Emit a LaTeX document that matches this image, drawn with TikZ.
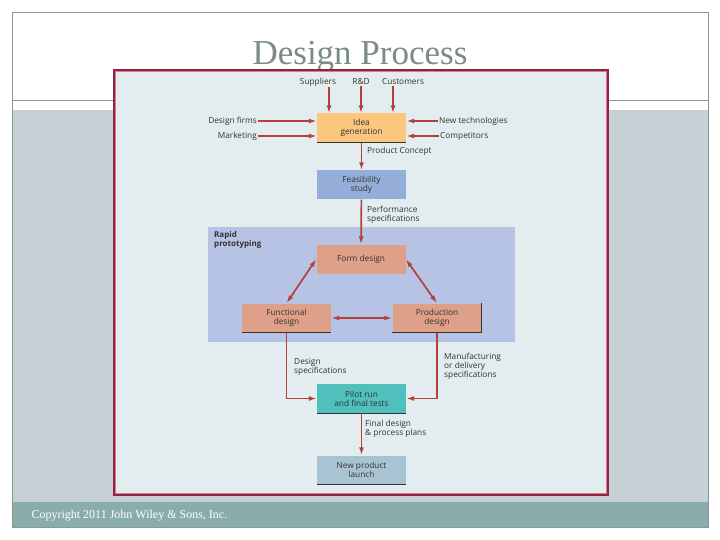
\documentclass[tikz,border=0pt]{standalone}
\usepackage{fontspec}
\setmainfont{Liberation Serif}
\newfontfamily\figFont{Open Sans}
\usetikzlibrary{arrows.meta}
\definecolor{frameGray}{RGB}{138,152,152}
\definecolor{bandGray}{RGB}{198,209,214}
\definecolor{footerTeal}{RGB}{138,172,171}
\definecolor{titleGray}{RGB}{122,140,137}
\definecolor{figBack}{RGB}{227,237,240}
\definecolor{figBorder}{RGB}{142,37,64}
\definecolor{figBorderInner}{RGB}{226,120,150}
\definecolor{arrowRed}{RGB}{180,64,58}
\definecolor{ideaColor}{RGB}{251,199,125}
\definecolor{feasColor}{RGB}{148,173,217}
\definecolor{rapidColor}{RGB}{183,195,228}
\definecolor{salmonColor}{RGB}{223,160,137}
\definecolor{pilotColor}{RGB}{80,192,188}
\definecolor{launchColor}{RGB}{168,196,211}
\definecolor{textGray}{RGB}{50,50,50}
\tikzstyle{slide} = [x=1pt, y=-1pt]
\tikzstyle{stepBox} = [minimum width=89pt, minimum height=29pt, inner sep=0pt, align=center, text=textGray, font=\figFont\fontsize{8.3}{9}\selectfont]
\tikzstyle{sideText} = [text=textGray, inner sep=1pt, align=left, font=\figFont\fontsize{8.3}{9}\selectfont]
\tikzstyle{flowArrow} = [color=arrowRed, line width=1.7pt, -{Latex[length=8pt,width=5pt]}]
\tikzstyle{bothArrow} = [flowArrow, {Latex[length=8pt,width=5pt]}-{Latex[length=8pt,width=5pt]}]
\tikzstyle{shadowLine} = [color=black!80, line width=1pt]
\newcommand{\shadowBottom}[1]{\draw [shadowLine] (#1.south west) -- (#1.south east);}
\begin{document}
\begin{tikzpicture}[slide]
  \useasboundingbox (0,0) rectangle (720,540);
  \fill [white] (0,0) rectangle (720,540);

  % slide frame
  \fill [bandGray] (12,110) rectangle (708,502);
  \fill [footerTeal] (12,502) rectangle (708,527);
  \draw [frameGray, line width=0.8pt] (12,12) rectangle (708,527);
  \draw [frameGray, line width=0.8pt] (12,100) -- (708,100);
  \node (title) [text=titleGray, font=\fontsize{35}{35}\selectfont] at (360,57) {Design Process};
  \node (copyright) [anchor=west, text=white, font=\fontsize{12}{13}\selectfont] at (28,516) {Copyright 2011 John Wiley \& Sons, Inc.};

  % figure panel
  \filldraw [fill=figBack, draw=figBorder, line width=2pt] (114,70) rectangle (608,495);
  \draw [figBorderInner, line width=0.8pt] (115.6,71.6) rectangle (606.4,493.4);
  \fill [rapidColor] (208,227) rectangle (515,342);
  \node (rapid) [sideText, anchor=north west, font=\figFont\bfseries\fontsize{8}{9}\selectfont] at (213,230) {Rapid\\prototyping};

  % boxes
  \node (ideaGen) [stepBox, fill=ideaColor] at (361.5,128) {Idea\\generation};
  \node (feasibility) [stepBox, fill=feasColor] at (361.5,185) {Feasibility\\study};
  \node (formDesign) [stepBox, fill=salmonColor] at (361,259) {Form design};
  \node (functionalDesign) [stepBox, fill=salmonColor] at (286.5,318) {Functional\\design};
  \node (productionDesign) [stepBox, fill=salmonColor] at (437,318) {Production\\design};
  \node (pilotRun) [stepBox, fill=pilotColor] at (361.5,398.5) {Pilot run\\and final tests};
  \node (launch) [stepBox, fill=launchColor] at (361.5,470) {New product\\launch};
  \shadowBottom{ideaGen}
  \shadowBottom{functionalDesign}
  \shadowBottom{productionDesign}
  \draw [shadowLine] (productionDesign.north east) -- (productionDesign.south east);
  \shadowBottom{pilotRun}
  \shadowBottom{launch}

  % inputs
  \node (suppliers) [sideText] at (318,82) {Suppliers};
  \node (rnd) [sideText] at (361,82) {R\&D};
  \node (customers) [sideText] at (403,82) {Customers};
  \node (designFirms) [sideText, anchor=east] at (258,121) {Design firms};
  \node (marketing) [sideText, anchor=east] at (258,136) {Marketing};
  \node (newTech) [sideText, anchor=west] at (438,121) {New technologies};
  \node (competitors) [sideText, anchor=west] at (439,136) {Competitors};
  \draw [flowArrow] ([xshift=11pt]suppliers.south) -- ([xshift=11pt]suppliers.south |- ideaGen.north);
  \draw [flowArrow] (rnd.south) -- (rnd.south |- ideaGen.north);
  \draw [flowArrow] ([xshift=-10pt]customers.south) -- ([xshift=-10pt]customers.south |- ideaGen.north);
  \draw [flowArrow] (designFirms.east) -- (designFirms.east -| ideaGen.west);
  \draw [flowArrow] (marketing.east) -- (marketing.east -| ideaGen.west);
  \draw [flowArrow] (newTech.west) -- (newTech.west -| ideaGen.east);
  \draw [flowArrow] (competitors.west) -- (competitors.west -| ideaGen.east);

  % labels on the flow
  \node (productConcept) [sideText, anchor=west] at (366,151) {Product Concept};
  \node (perfSpec) [sideText, anchor=west] at (366,215) {Performance\\specifications};
  \node (designSpec) [sideText, anchor=west] at (293,367) {Design\\specifications};
  \node (mfgSpec) [sideText, anchor=west] at (443,366) {Manufacturing\\or delivery\\specifications};
  \node (finalPlans) [sideText, anchor=west] at (364,429) {Final design\\\& process plans};

  % flow
  \draw [flowArrow] (ideaGen) -- (feasibility);
  \draw [flowArrow] (feasibility) -- (formDesign);
  \draw [bothArrow] (formDesign.west) -- (functionalDesign.north);
  \draw [bothArrow] (formDesign.east) -- (productionDesign.north);
  \draw [bothArrow] (functionalDesign) -- (productionDesign);
  \draw [flowArrow] (functionalDesign.south) |- (pilotRun.west);
  \draw [flowArrow] (productionDesign.south) |- (pilotRun.east);
  \draw [flowArrow] (pilotRun) -- (launch);
\end{tikzpicture}
\end{document}
